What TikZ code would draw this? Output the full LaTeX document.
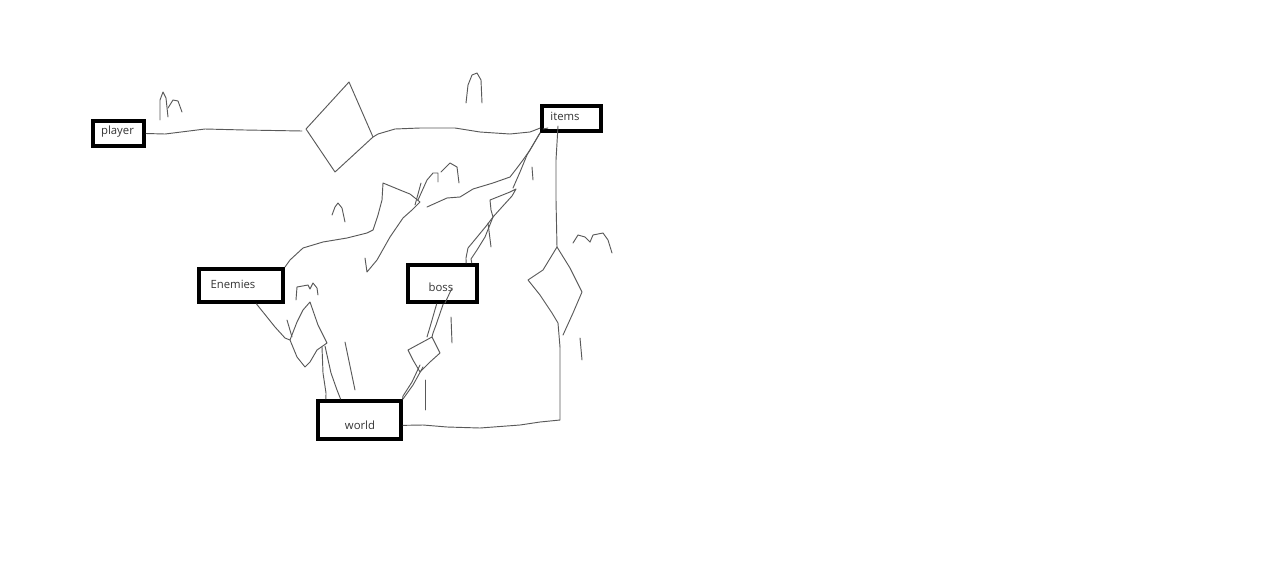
\documentclass[tikz,border=0pt]{standalone}
\usepackage{fontspec}
\setmainfont{Open Sans}
\tikzset{
  entity/.style={draw, line width=3pt, inner sep=0pt},
  lbl/.style={font=\fontsize{8.5}{10}\selectfont, text=black!80, inner sep=0pt},
  sketch/.style={draw=black!65, line width=0.7pt, line join=round, line cap=round}
}
\begin{document}
\begin{tikzpicture}[x=0.75pt,y=-0.75pt]
  \useasboundingbox (0,0) rectangle (1280,579);
  % entities
  \node[entity, minimum width=38.25pt, minimum height=18.75pt] (player) at (118.5,133.5) {};
  \node[entity, minimum width=44.25pt, minimum height=18.75pt] (items) at (571.5,118.5) {};
  \node[entity, minimum width=63pt, minimum height=24.75pt] (enemies) at (241,285.5) {};
  \node[entity, minimum width=51.75pt, minimum height=27.75pt] (boss) at (442.5,283.5) {};
  \node[entity, minimum width=62.25pt, minimum height=28.5pt] (world) at (359.5,420) {};
  \node[lbl] (player-t) at (117.5,132) {player};
  \node[lbl] (items-t) at (565,116) {items};
  \node[lbl] (enemies-t) at (233,284) {Enemies};
  \node[lbl] (boss-t) at (441,287) {boss};
  \node[lbl] (world-t) at (360,425) {world};

  % player -- items
  \draw[sketch] (player.east) -- (165,134) -- (205,129) -- (245,130) -- (302,131);
  \draw[sketch] (306,129) -- (349,82) -- (373,137) -- (335,172) -- cycle;
  \draw[sketch] (373,137) -- (378,134) -- (395,129) -- (420,128) -- (455,128) -- (480,132) -- (510,134) -- (530,132) -- (items.197);
  \draw[sketch] (543,129) -- (548,128);
  \draw[sketch] (160,120) -- (160,100) -- (163,92) -- (166,98) -- (168,117);
  \draw[sketch] (168,108) -- (173,100) -- (178,101) -- (182,112);
  \draw[sketch] (466,103) -- (468,85) -- (472,75) -- (477,73) -- (481,80) -- (482,103);

  % enemies -- items
  \draw[sketch] (enemies.north east) -- (290,260) -- (303,248) -- (323,242) -- (347,238) -- (367,233) -- (373,230) -- (378,215) -- (382,200) -- (383,183) -- (400,190) -- (410,194) -- (420,202) -- (412,210) -- (403,218) -- (390,237) -- (377,260) -- (367,272) -- (365,258);
  \draw[sketch] (421,183) -- (415,205);
  \draw[sketch] (418,200) -- (427,180) -- (433,173) -- (438,173) -- (438,182);
  \draw[sketch] (441,172) -- (450,163) -- (457,167) -- (459,183);
  \draw[sketch] (items.south west) -- (530,150) -- (523,160) -- (517,168) -- (510,177) -- (493,183) -- (473,189) -- (460,197) -- (447,198) -- (427,207);
  \draw[sketch] (532,167) -- (533,180);
  \draw[sketch] (332,215) -- (335,207) -- (338,203) -- (342,208) -- (345,222);

  % boss -- items
  \draw[sketch] (items.south west) -- (527,155) -- (520,172) -- (513,188);
  \draw[sketch] (490,200) -- (510,192) -- (516,189) -- (512,196) -- (502,207) -- (493,217) -- (491,210) -- cycle;
  \draw[sketch] (493,217) -- (487,225) -- (473,242) -- (468,248) -- (466,258) -- (boss.41);
  \draw[sketch] (493,217) -- (485,237) -- (477,250) -- (471,259) -- (boss.35);
  \draw[sketch] (488,223) -- (491,247);

  % enemies -- world
  \draw[sketch] (enemies.-50) -- (275,327) -- (285,338) -- (290,340);
  \draw[sketch] (290,340) -- (297,357) -- (305,367) -- (310,362) -- (317,350) -- (327,343) -- (318,325) -- (310,302) -- (303,310) -- (297,322) -- cycle;
  \draw[sketch] (287,320) -- (292,337);
  \draw[sketch] (322,347) -- (323,373) -- (326,393) -- (world.148);
  \draw[sketch] (325,346) -- (331,373) -- (337,390) -- (world.132);
  \draw[sketch] (345,342) -- (355,390);
  \draw[sketch] (296,300) -- (297,287) -- (308,285) -- (310,289) -- (313,283) -- (317,288) -- (318,295);

  % boss -- world
  \draw[sketch] (452,288) -- (445,303);
  \draw[sketch] (boss.-106) -- (430,327) -- (427,337);
  \draw[sketch] (boss.-88) -- (436,325) -- (433,333) -- (432,337);
  \draw[sketch] (432,337) -- (408,350) -- (413,360) -- (420,372) -- (430,362) -- (440,353) -- cycle;
  \draw[sketch] (420,365) -- (412,382) -- (403,396) -- (world.26);
  \draw[sketch] (423,367) -- (413,385) -- (world.north east);
  \draw[sketch] (451,317) -- (452,343);
  \draw[sketch] (425,380) -- (425,410);

  % items -- world
  \draw[sketch] (558,126) -- (556,160) -- (556,200) -- (557,247);
  \draw[sketch] (557,247) -- (543,270) -- (528,280) -- (540,295) -- (552,313) -- (558,323) -- (560,347);
  \draw[sketch] (557,247) -- (570,268) -- (582,292) -- (573,313) -- (563,335);
  \draw[sketch] (560,347) -- (560,420) -- (540,422) -- (520,425) -- (480,428) -- (447,427) -- (423,425) -- (world.-7);
  \draw[sketch] (573,243) -- (578,235) -- (585,237) -- (590,242);
  \draw[sketch] (590,242) -- (593,235) -- (603,233) -- (608,240) -- (612,253);
  \draw[sketch] (580,338) -- (582,360);
\end{tikzpicture}
\end{document}
